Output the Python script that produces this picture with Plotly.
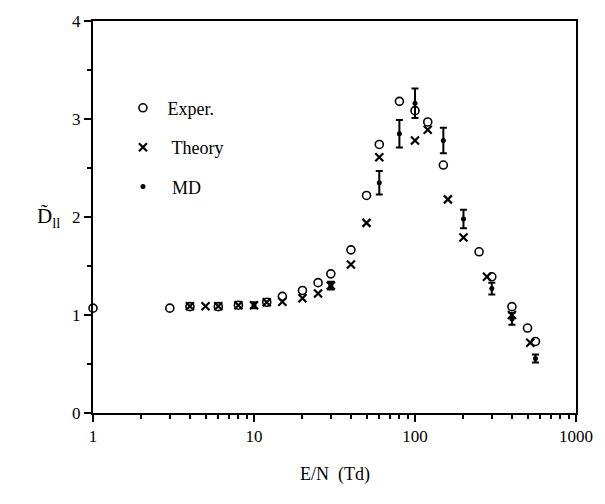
import plotly.graph_objects as go

# Experimental data (open circles)
exper_x = [1, 3, 4, 6, 8, 12, 15, 20, 25, 30, 40, 50, 60, 80, 100, 120, 150, 250, 300, 400, 500, 560]
exper_y = [1.07, 1.07, 1.085, 1.085, 1.10, 1.13, 1.19, 1.25, 1.33, 1.42, 1.665, 2.22, 2.74, 3.18,
           3.085, 2.97, 2.53, 1.645, 1.39, 1.085, 0.867, 0.73]

# Theory (crosses)
theory_x = [4, 5, 6, 8, 10, 12, 15, 20, 25, 30, 40, 50, 60, 100, 120, 160, 200, 280, 400, 520]
theory_y = [1.09, 1.09, 1.09, 1.10, 1.10, 1.13, 1.135, 1.17, 1.22, 1.30, 1.515, 1.94, 2.61, 2.78,
            2.89, 2.18, 1.79, 1.39, 1.0, 0.717]

# MD (filled dots with error bars)
md_x = [10, 30, 60, 80, 100, 150, 200, 300, 400, 560]
md_y = [1.10, 1.30, 2.35, 2.85, 3.16, 2.78, 1.98, 1.27, 0.96, 0.556]
md_err = [0.03, 0.04, 0.12, 0.14, 0.15, 0.13, 0.095, 0.06, 0.06, 0.04]

x_ticks = [1, 10, 100, 1000]
x_ticktext = ["1", "10", "100", "1000"]
y_ticks = [0, 1, 2, 3, 4]

FONT = "Liberation Serif"

fig = go.Figure()
fig.add_trace(go.Scatter(
    x=exper_x, y=exper_y, mode="markers", name=" Exper.", legendgroup="a",
    marker=dict(symbol="circle-open", size=8, color="black", line=dict(width=1.6)),
    cliponaxis=False))
fig.add_trace(go.Scatter(
    x=theory_x, y=theory_y, mode="markers", name="  Theory", legendgroup="b",
    marker=dict(symbol="x-thin-open", size=8, color="black", line=dict(width=2.2)),
    cliponaxis=False))
fig.add_trace(go.Scatter(
    x=md_x, y=md_y, mode="markers", name="  MD", legendgroup="c",
    marker=dict(symbol="circle", size=5, color="black"),
    error_y=dict(type="data", array=md_err, visible=True, color="black", thickness=2, width=3.5),
    cliponaxis=False))

fig.update_layout(
    width=605, height=504,
    margin=dict(l=93, r=20, t=12, b=91),
    paper_bgcolor="white", plot_bgcolor="white",
    font=dict(family=FONT, size=16, color="black"),
    showlegend=True,
    legend=dict(x=0.062, y=0.825, xanchor="left", yanchor="top",
                bgcolor="rgba(0,0,0,0)", tracegroupgap=13,
                font=dict(family=FONT, size=18, color="black"), itemwidth=30),
    xaxis=dict(type="log", range=[0, 3], tickvals=x_ticks, ticktext=x_ticktext,
               ticks="outside", ticklen=7, tickwidth=1.5, tickcolor="black",
               showgrid=False, zeroline=False,
               showline=True, linecolor="black", linewidth=2, mirror=True,
               minor=dict(ticks="outside", ticklen=4, tickwidth=1.5, tickcolor="black",
                          dtick="D1", showgrid=False),
               tickfont=dict(family=FONT, size=17)),
    yaxis=dict(range=[0, 4], tickvals=y_ticks,
               ticks="outside", ticklen=7, tickwidth=1.5, tickcolor="black",
               showgrid=False, zeroline=False,
               showline=True, linecolor="black", linewidth=2, mirror=True,
               minor=dict(ticks="outside", ticklen=4, tickwidth=1.5, tickcolor="black",
                          dtick=0.5, showgrid=False),
               tickfont=dict(family=FONT, size=17)),
)

fig.add_annotation(text="E/N  (Td)", xref="paper", yref="paper", x=0.5, y=-0.158,
                   showarrow=False, font=dict(family=FONT, size=18), yanchor="middle")
fig.add_annotation(text="D\u0303<sub>ll</sub>", xref="paper", yref="paper", x=-0.093, y=0.5,
                   showarrow=False, font=dict(family=FONT, size=21), xanchor="center",
                   yanchor="middle")

fig.write_html("out.html")
